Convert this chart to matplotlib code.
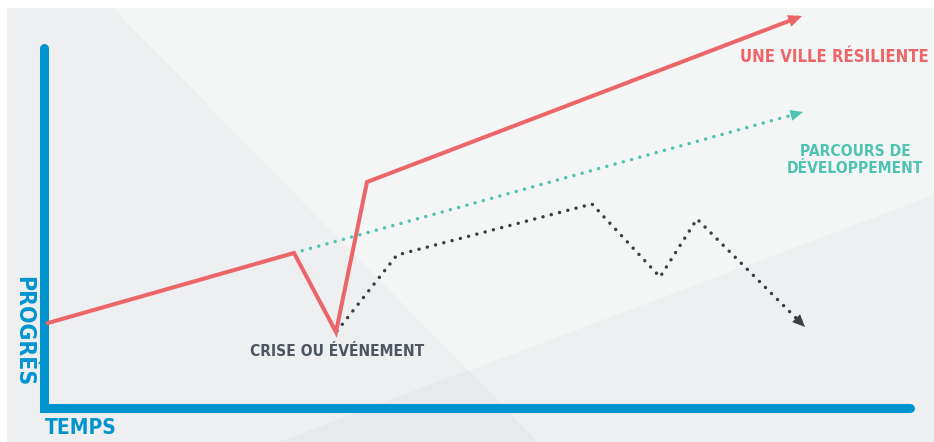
import matplotlib
matplotlib.use("Agg")
import matplotlib.pyplot as plt
from matplotlib.patches import Polygon

# Conceptual diagram: progress over time, in a pixel-like coordinate frame
# (x = time, y = progress, both 0 at the bottom-left of the canvas).
RESILIENT_T = [48, 294, 336, 367, 802]
RESILIENT_P = [119, 189, 110, 260, 426]

TREND_T = [294, 803]
TREND_P = [189, 330]

FRAGILE_T = [337, 397, 592, 660, 697, 805]
FRAGILE_P = [111, 187, 238, 165, 223, 115]

AXIS_T = [43.5, 43.5, 910]
AXIS_P = [394, 34, 34]

RED = "#ec6569"
TEAL = "#4ec3b1"
DARK = "#3b3e44"
BLUE = "#0094cf"
SLATE = "#4d5560"

FONT = dict(family="DejaVu Sans", fontweight="bold", fontstretch="condensed")


def arrow_head(ax, t, p, color, size):
    ax.annotate("", xy=(t[-1], p[-1]), xytext=(t[-2], p[-2]),
                arrowprops=dict(arrowstyle="-|>,head_length=0.45,head_width=0.2",
                                color=color, lw=0, mutation_scale=size,
                                shrinkA=0, shrinkB=0))


def trimmed(t, p, k=0.02):
    # stop the stroke a little before the tip so the head stays clean
    tt = list(t)
    pp = list(p)
    tt[-1] = t[-1] - (t[-1] - t[-2]) * k
    pp[-1] = p[-1] - (p[-1] - p[-2]) * k
    return tt, pp


def main():
    fig = plt.figure(figsize=(9.34, 4.42), dpi=100, facecolor="white")
    ax = fig.add_axes([0, 0, 1, 1])
    ax.set_xlim(0, 934)
    ax.set_ylim(0, 442)
    ax.axis("off")

    # background panels
    ax.add_patch(Polygon([(7, 0), (934, 0), (934, 434), (7, 434)],
                         closed=True, color="#f4f6f5", lw=0, zorder=0))
    ax.add_patch(Polygon([(7, 434), (113, 434), (538, 0), (7, 0)],
                         closed=True, color="#eeeff1", lw=0, zorder=0.1))
    ax.add_patch(Polygon([(280, 0), (934, 247), (934, 0)],
                         closed=True, color="#eeeff1", lw=0, zorder=0.1))
    ax.add_patch(Polygon([(468, 72), (280, 0), (538, 0)],
                         closed=True, color="#e8e9eb", lw=0, zorder=0.2))

    # axes bars
    ax.plot(AXIS_T, AXIS_P, color=BLUE, lw=6.5, solid_capstyle="round",
            solid_joinstyle="miter", zorder=2)

    # paths
    t, p = trimmed(TREND_T, TREND_P, 0.015)
    ax.plot(t, p, color=TEAL, lw=2.5, linestyle=(0, (0.01, 2.45)),
            dash_capstyle="round", zorder=3)
    arrow_head(ax, TREND_T, TREND_P, TEAL, 20)

    t, p = trimmed(FRAGILE_T, FRAGILE_P, 0.05)
    ax.plot(t, p, color=DARK, lw=2.5, linestyle=(0, (0.01, 2.45)),
            dash_capstyle="round", zorder=3)
    arrow_head(ax, FRAGILE_T, FRAGILE_P, DARK, 20)

    t, p = trimmed(RESILIENT_T, RESILIENT_P, 0.012)
    ax.plot(t, p, color=RED, lw=2.9, solid_joinstyle="miter", zorder=4)
    arrow_head(ax, RESILIENT_T, RESILIENT_P, RED, 22)

    # labels
    ax.text(929, 385, "UNE VILLE RÉSILIENTE", color=RED, fontsize=12,
            ha="right", va="center", **FONT)
    ax.text(855, 282, "PARCOURS DE\nDÉVELOPPEMENT", color=TEAL, fontsize=11.2,
            ha="center", va="center", linespacing=1.2, **FONT)
    ax.text(337, 90, "CRISE OU ÉVÉNEMENT", color=SLATE, fontsize=11.2,
            ha="center", va="center", **FONT)
    ax.text(45, 14, "TEMPS", color=BLUE, fontsize=15, ha="left",
            va="center", **FONT)
    ax.text(24, 111, "PROGRÈS", color=BLUE, fontsize=16.5, ha="center",
            va="center", rotation=270, **FONT)

    fig.savefig("out.png", dpi=100, facecolor=fig.get_facecolor())


if __name__ == "__main__":
    main()
